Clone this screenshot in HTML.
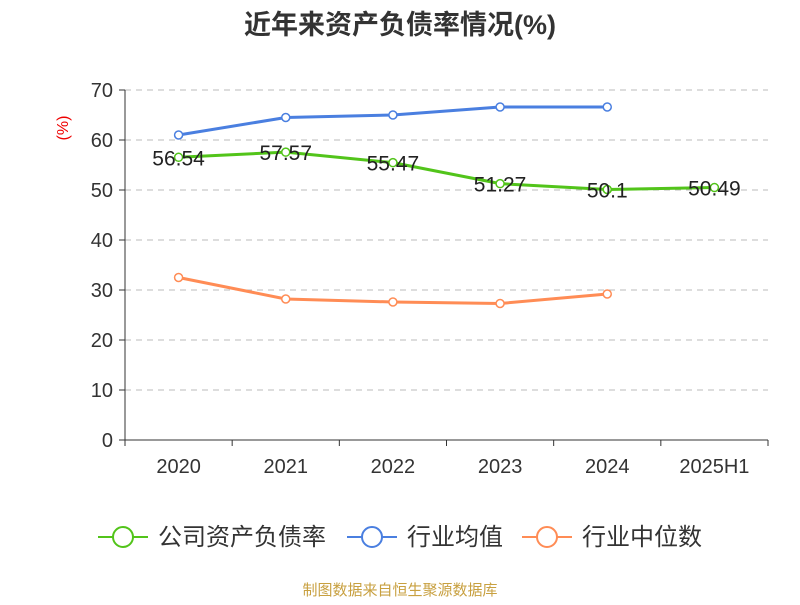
<!DOCTYPE html>
<html><head><meta charset="utf-8"><style>
body{margin:0;background:#fff;font-family:"Liberation Sans","Noto Sans CJK SC",sans-serif}
</style></head><body>
<svg width="800" height="600" xmlns="http://www.w3.org/2000/svg" style="font-family:'Liberation Sans','Noto Sans CJK SC',sans-serif">
<text x="400" y="34" text-anchor="middle" font-size="27" font-weight="bold" fill="#333">近年来资产负债率情况(%)</text>
<text x="68" y="128" font-size="16" fill="#e00" transform="rotate(-90 68 128)" text-anchor="middle">(%)</text>
<g id="grid"></g><g id="axes"></g><g id="series"></g>
<g>
<g><line x1="98" y1="537" x2="148" y2="537" stroke="#52c41a" stroke-width="2"/><circle cx="123" cy="537" r="10" fill="#fff" stroke="#52c41a" stroke-width="2"/><text x="158" y="545" font-size="24" fill="#333">公司资产负债率</text></g>
<g><line x1="347" y1="537" x2="397" y2="537" stroke="#4a7fe0" stroke-width="2"/><circle cx="372" cy="537" r="10" fill="#fff" stroke="#4a7fe0" stroke-width="2"/><text x="407" y="545" font-size="24" fill="#333">行业均值</text></g>
<g><line x1="522" y1="537" x2="572" y2="537" stroke="#ff8c55" stroke-width="2"/><circle cx="547" cy="537" r="10" fill="#fff" stroke="#ff8c55" stroke-width="2"/><text x="582" y="545" font-size="24" fill="#333">行业中位数</text></g>
</g>
<text x="400" y="595" text-anchor="middle" font-size="15" fill="#c8a040">制图数据来自恒生聚源数据库</text>
</svg>
<script>
const categories=["2020","2021","2022","2023","2024","2025H1"];
const companyValues=[56.54,57.57,55.47,51.27,50.1,50.49];
const companyLabels=["56.54","57.57","55.47","51.27","50.1","50.49"];
const industryAvg=[61,64.5,65,66.6,66.6];
const industryMedian=[32.5,28.2,27.6,27.3,29.2];
const yTicks=[0,10,20,30,40,50,60,70];
const NS="http://www.w3.org/2000/svg";
const L=125,R=768,T=90,B=440,bw=(R-L)/categories.length;
const x=i=>L+bw*(i+0.5), y=v=>B-(v/70)*(B-T);
function mk(t,a,p){const e=document.createElementNS(NS,t);for(const k in a)e.setAttribute(k,a[k]);p.appendChild(e);return e;}
const grid=document.getElementById('grid'),axes=document.getElementById('axes'),ser=document.getElementById('series');
yTicks.forEach(v=>{
 if(v>0){const g=mk('line',{x1:L,x2:R,y1:y(v),y2:y(v),stroke:'#bbb','stroke-dasharray':'6,5'},grid);
 
 }
 const tk=mk('line',{x1:L-6,x2:L,y1:y(v),y2:y(v),stroke:'#333'},axes);
 
 
 const t=mk('text',{x:L-12,y:y(v)+7,'text-anchor':'end','font-size':20,fill:'#333'},axes);t.textContent=v;
 
 
});
const ya=mk('line',{x1:L,x2:L,y1:T,y2:B,stroke:'#333'},axes);


const xa=mk('line',{x1:L,x2:R,y1:B,y2:B,stroke:'#333'},axes);


for(let i=0;i<=categories.length;i++){const tk=mk('line',{x1:L+bw*i,x2:L+bw*i,y1:B,y2:B+6,stroke:'#333'},axes);
 
 }
categories.forEach((c,i)=>{const t=mk('text',{x:x(i),y:473,'text-anchor':'middle','font-size':20,fill:'#333'},axes);t.textContent=c;
 
 });
function line(vals,color,name){
 const g=mk('g',{},ser);
 
 
 mk('polyline',{points:vals.map((v,i)=>x(i)+','+y(v)).join(' '),fill:'none',stroke:color,'stroke-width':3,'stroke-linejoin':'round'},g);
 vals.forEach((v,i)=>{const c=mk('circle',{cx:x(i),cy:y(v),r:4,fill:'#fff',stroke:color,'stroke-width':1.5},g);
  
  });
 return g;
}
line(industryMedian,'#ff8c55','industry-median-line');
line(industryAvg,'#4a7fe0','industry-average-line');
const cg=line(companyValues,'#52c41a','company-line');
companyValues.forEach((v,i)=>{const t=mk('text',{x:x(i),y:y(v)+8,'text-anchor':'middle','font-size':21,fill:'#222'},cg);t.textContent=companyLabels[i];
 
 });
</script>
</body></html>
